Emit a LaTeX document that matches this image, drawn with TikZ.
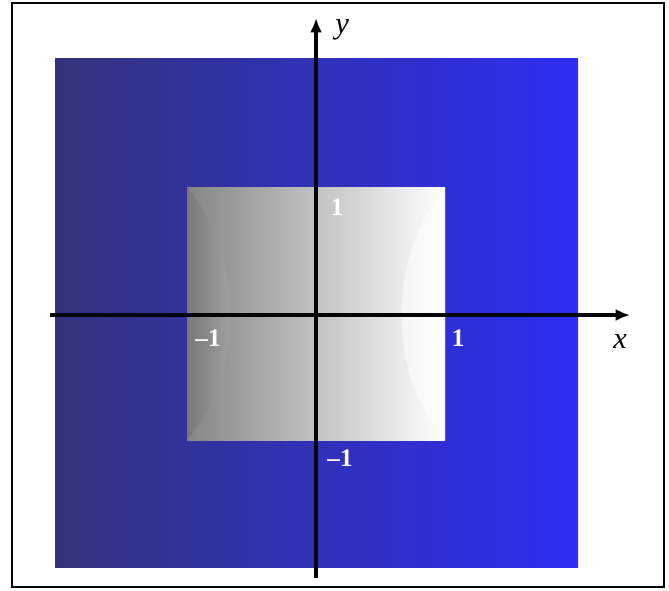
\documentclass[tikz,border=0pt]{standalone}
\usepackage{fontspec}
\setmainfont{Liberation Serif}
\usepackage{xcolor}
\usepackage{tikz}
\usetikzlibrary{arrows.meta}
\definecolor{Ink}{HTML}{050505}
\definecolor{NavyDark}{HTML}{33337C}
\definecolor{BlueBright}{HTML}{2E2EF4}
\definecolor{GreyDark}{HTML}{858585}
\definecolor{GreyMid}{HTML}{BDBDBD}
\tikzset{
  axis/.style={draw=Ink,line width=2.4pt,-{Latex[length=3.8mm,width=3.2mm]}},
  frame/.style={draw=Ink,line width=1.6pt},
  tick/.style={text=white,font=\fontsize{19}{19}\selectfont\bfseries,inner sep=0pt},
  varlabel/.style={text=Ink,font=\fontsize{23}{23}\selectfont\itshape,inner sep=0pt}
}
\begin{document}
\begin{tikzpicture}[x=3.413cm,y=3.413cm]
  \useasboundingbox (-2.450,-2.132) rectangle (2.736,2.442);
  \draw[frame] (-2.357,-2.109) rectangle (2.698,2.419);
  % blue cushion
  \shade[left color=NavyDark,right color=BlueBright] (-2.023,-1.961) rectangle (2.031,1.992);
  % grey cushion, soft creases towards the corners
  \shade[left color=GreyDark,middle color=GreyMid,right color=white] (-1,-0.97) rectangle (1,0.99);
  \shade[left color=GreyDark!80!black,right color=GreyMid,opacity=.45] (-1,-0.97) .. controls (-0.55,-0.45) and (-0.55,0.45) .. (-1,0.99) -- cycle;
  \shade[left color=white,right color=white,opacity=.55] (1,-0.97) .. controls (0.55,-0.45) and (0.55,0.45) .. (1,0.99) -- cycle;
  % axes
  \coordinate (xs) at (-2.062,0);
  \coordinate (xe) at (2.434,0);
  \coordinate (ys) at (0,-2.039);
  \coordinate (ye) at (0,2.302);
  \draw[axis] (xs) -- (xe);
  \draw[axis] (ys) -- (ye);
  \node[varlabel] (xl) at (2.357,-0.202) {x};
  \node[varlabel] (yl) at (0.202,2.209) {y};
  \node[tick] (t1) at (0.163,0.837) {1};
  \node[tick] (t2) at (-0.837,-0.178) {\textendash1};
  \node[tick] (t3) at (1.101,-0.178) {1};
  \node[tick] (t4) at (0.186,-1.109) {\textendash1};
\end{tikzpicture}
\end{document}
